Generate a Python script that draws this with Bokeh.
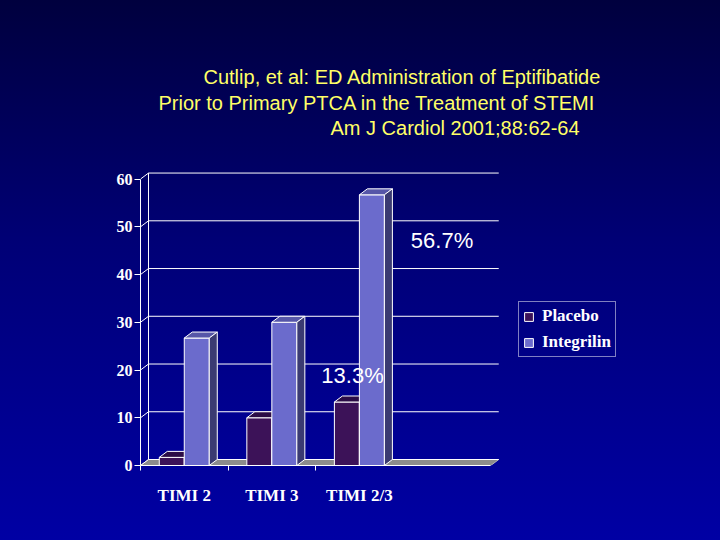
from bokeh.plotting import figure
from bokeh.models import (FixedTicker, Range1d, Legend, LegendItem, Label,
                          ColumnDataSource)
from bokeh.embed import file_html
from bokeh.resources import INLINE

# ---------------- data ----------------
categories = ["TIMI 2", "TIMI 3", "TIMI 2/3"]
placebo = [1.7, 10.0, 13.3]
integrilin = [26.7, 30.0, 56.7]
y_ticks = [0, 10, 20, 30, 40, 50, 60]
series_names = ["Placebo", "Integrilin"]
title_lines = ["Cutlip, et al:  ED Administration of Eptifibatide",
               "Prior to Primary PTCA in the Treatment of STEMI",
               "Am J Cardiol 2001;88:62-64"]

# ---------------- layout / styling ----------------
PX_X = 87.56          # pixels per x unit
PX_Y = 4.774          # pixels per y unit
FRAME_L, FRAME_B = 140, 465
FRAME_R, FRAME_T = 625, 50
DX = 8 / PX_X         # 3D depth offset (x, data units)
DY = 6 / PX_Y         # 3D depth offset (y, data units)
BAR_W = 25 / PX_X
N_SLOTS = 4

def dx_(px):  # canvas px -> data x
    return (px - FRAME_L) / PX_X

def dy_(py):  # canvas px -> data y
    return (FRAME_B - py) / PX_Y

face = {
    "Placebo": ("#3c1258", "#2b0c46", "#22083a"),
    "Integrilin": ("#6b6bcc", "#5656a8", "#3a3a72"),
}

p = figure(width=720, height=540, output_backend="svg", toolbar_location=None,
           x_range=Range1d(0, dx_(FRAME_R)), y_range=Range1d(0, dy_(FRAME_T)),
           min_border_left=FRAME_L, min_border_right=720 - FRAME_R,
           min_border_top=FRAME_T, min_border_bottom=540 - FRAME_B)
p.border_fill_color = None
p.background_fill_color = None
p.outline_line_color = None
p.grid.visible = False
p.styles = {"background": "linear-gradient(to bottom, #00003e 0%, #000076 45%, #0000a4 100%)"}

# floor
p.patch([0, N_SLOTS, N_SLOTS + DX, DX], [0, 0, DY, DY],
        fill_color="#8c8c8c", line_color="#b4b4b4", line_width=1)

# back wall grid lines with perspective connectors
gx, gy = [], []
for t in y_ticks:
    gx.append([0, DX, N_SLOTS + DX])
    gy.append([t, t + DY, t + DY])
p.multi_line(gx, gy, line_color="white", line_width=1)
p.segment(x0=[DX], y0=[DY], x1=[DX], y1=[y_ticks[-1] + DY], line_color="white", line_width=1)

# bars
renderers = {}
for s_idx, (name, vals) in enumerate([("Placebo", placebo), ("Integrilin", integrilin)]):
    front, top, side = face[name]
    lefts, rights = [], []
    for i, v in enumerate(vals):
        c = i + 0.5
        x0 = c - BAR_W if s_idx == 0 else c
        lefts.append(x0)
        rights.append(x0 + BAR_W)
    src = ColumnDataSource(dict(left=lefts, right=rights, top=vals, bottom=[0] * len(vals)))
    r = p.quad(left="left", right="right", top="top", bottom="bottom", source=src,
               fill_color=front, line_color="white", line_width=1)
    renderers[name] = r
    tx = [[l, rr, rr + DX, l + DX] for l, rr in zip(lefts, rights)]
    ty = [[v, v, v + DY, v + DY] for v in vals]
    p.patches(tx, ty, fill_color=top, line_color="white", line_width=1)
    sx = [[rr, rr, rr + DX, rr + DX] for rr in rights]
    sy = [[0, v, v + DY, DY] for v in vals]
    p.patches(sx, sy, fill_color=side, line_color="white", line_width=1)

# axes
p.yaxis.ticker = FixedTicker(ticks=y_ticks)
p.yaxis.bounds = (0, 60)
p.yaxis.axis_line_color = "white"
p.yaxis.major_tick_line_color = "white"
p.yaxis.major_tick_out = 6
p.yaxis.major_tick_in = 0
p.yaxis.minor_tick_line_color = None
p.yaxis.major_label_standoff = 2
p.yaxis.major_label_text_color = "white"
p.yaxis.major_label_text_font = "Liberation Serif"
p.yaxis.major_label_text_font_style = "bold"
p.yaxis.major_label_text_font_size = "16px"

centers = [i + 0.5 for i in range(len(categories))]
p.xaxis.ticker = FixedTicker(ticks=centers, minor_ticks=list(range(len(categories))))
p.xaxis.major_label_overrides = {c: lab for c, lab in zip(centers, categories)}
p.xaxis.bounds = (0, N_SLOTS)
p.xaxis.axis_line_color = "white"
p.xaxis.major_tick_line_color = None
p.xaxis.minor_tick_line_color = "white"
p.xaxis.minor_tick_out = 5
p.xaxis.minor_tick_in = 0
p.xaxis.major_label_standoff = 14
p.xaxis.major_label_text_color = "white"
p.xaxis.major_label_text_font = "Liberation Serif"
p.xaxis.major_label_text_font_style = "bold"
p.xaxis.major_label_text_font_size = "17px"

# value annotations
p.add_layout(Label(x=dx_(352), y=dy_(375), text=f"{placebo[2]}%", text_align="center",
                   text_baseline="middle", text_color="white",
                   text_font="Liberation Sans", text_font_size="22px"))
p.add_layout(Label(x=dx_(441.5), y=dy_(240), text=f"{integrilin[2]}%", text_align="center",
                   text_baseline="middle", text_color="white",
                   text_font="Liberation Sans", text_font_size="22px"))

# title lines
title_pos = [(203, 76), (158, 102), (330, 127)]
for txt, (tx_, ty_) in zip(title_lines, title_pos):
    p.add_layout(Label(x=dx_(tx_), y=dy_(ty_), text=txt, text_align="left",
                       text_baseline="middle", text_color="#ffff66",
                       text_font="Liberation Sans", text_font_size="20px"))

# legend
legend = Legend(items=[LegendItem(label=n, renderers=[renderers[n]]) for n in series_names],
                location=(378, 108))
legend.border_line_color = "white"
legend.border_line_width = 1
legend.background_fill_alpha = 0
legend.label_text_color = "white"
legend.label_text_font = "Liberation Serif"
legend.label_text_font_style = "bold"
legend.label_text_font_size = "17px"
legend.glyph_width = 11
legend.glyph_height = 11
legend.label_height = 18
legend.spacing = 6
legend.padding = 4
legend.margin = 0
legend.label_standoff = 8
p.add_layout(legend)

open("out.html", "w").write(file_html(p, INLINE))
